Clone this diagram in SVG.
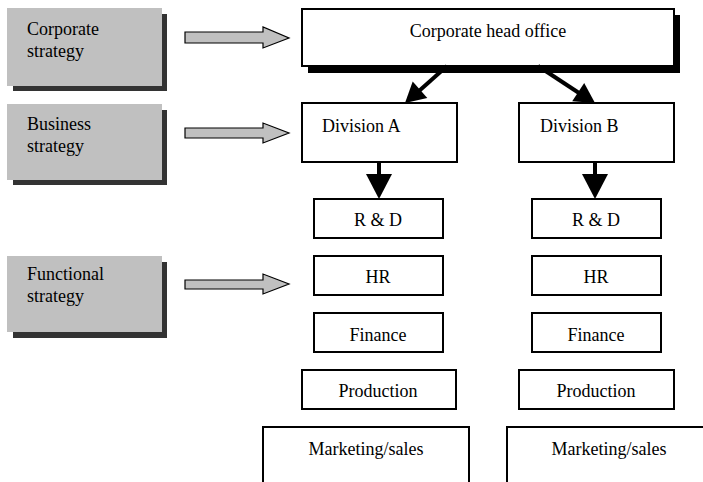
<svg xmlns="http://www.w3.org/2000/svg" width="703" height="482" viewBox="0 0 703 482">
  <style>
    text { font-family: "Liberation Serif", "Times New Roman", serif; font-size: 18px; fill: #000; }
    .level { fill: #c0c0c0; }
    .lvl-shadow { fill: #333; }
    .box { fill: #fff; stroke: #000; stroke-width: 2; }
    .pointer { fill: #c0c0c0; stroke: #000; stroke-width: 1.2; stroke-linejoin: miter; }
    .link { stroke: #000; stroke-width: 4; fill: none; }
    .head { fill: #000; }
    .mid { text-anchor: middle; }
  </style>

  <rect width="703" height="482" fill="#fff"/>

  <!-- strategy levels -->
  <g id="corporate-strategy">
    <rect class="lvl-shadow" x="13" y="14" width="154" height="77"/>
    <rect class="level" x="7" y="8" width="155" height="78"/>
    <text x="27" y="35">Corporate</text>
    <text x="27" y="57">strategy</text>
  </g>
  <g id="business-strategy">
    <rect class="lvl-shadow" x="13" y="110" width="154" height="75"/>
    <rect class="level" x="7" y="104" width="155" height="76"/>
    <text x="27" y="130">Business</text>
    <text x="27" y="152">strategy</text>
  </g>
  <g id="functional-strategy">
    <rect class="lvl-shadow" x="13" y="262" width="154" height="76"/>
    <rect class="level" x="7" y="256" width="155" height="76"/>
    <text x="27" y="280">Functional</text>
    <text x="27" y="302">strategy</text>
  </g>

  <!-- organisation -->
  <g id="head-office">
    <rect x="308" y="15" width="372" height="58" fill="#000"/>
    <rect class="box" x="302" y="9" width="372" height="57"/>
    <text class="mid" x="488" y="37">Corporate head office</text>
  </g>
  <g id="division-a">
    <rect class="box" x="302" y="103" width="155" height="59"/>
    <text x="322" y="132">Division A</text>
  </g>
  <g id="division-b">
    <rect class="box" x="519" y="103" width="155" height="59"/>
    <text x="540" y="132">Division B</text>
  </g>

  <g id="rd-a"><rect class="box" x="314" y="199" width="129" height="39"/><text class="mid" x="378" y="226">R &amp; D</text></g>
  <g id="hr-a"><rect class="box" x="314" y="256" width="129" height="39"/><text class="mid" x="378" y="283">HR</text></g>
  <g id="finance-a"><rect class="box" x="314" y="313" width="129" height="39"/><text class="mid" x="378" y="341">Finance</text></g>
  <g id="production-a"><rect class="box" x="302" y="370" width="154" height="39"/><text class="mid" x="378" y="397">Production</text></g>
  <g id="marketing-a"><rect class="box" x="263" y="427" width="206" height="70"/><text class="mid" x="366" y="455">Marketing/sales</text></g>

  <g id="rd-b"><rect class="box" x="532" y="199" width="129" height="39"/><text class="mid" x="596" y="226">R &amp; D</text></g>
  <g id="hr-b"><rect class="box" x="532" y="256" width="129" height="39"/><text class="mid" x="596" y="283">HR</text></g>
  <g id="finance-b"><rect class="box" x="532" y="313" width="129" height="39"/><text class="mid" x="596" y="341">Finance</text></g>
  <g id="production-b"><rect class="box" x="519" y="370" width="155" height="39"/><text class="mid" x="596" y="397">Production</text></g>
  <g id="marketing-b"><rect class="box" x="507" y="427" width="220" height="70"/><text class="mid" x="609" y="455">Marketing/sales</text></g>

  <!-- connectors -->
  <g id="connectors">
    <polygon class="pointer" points="185,32 263,32 263,27 289,38 263,48 263,43 185,43"/>
    <polygon class="pointer" points="185,128 263,128 263,123 289,133 263,143 263,138 185,138"/>
    <polygon class="pointer" points="185,280 263,280 263,274 289,284 263,294 263,289 185,289"/>

    <line class="link" x1="447" y1="66" x2="419" y2="91"/>
    <polygon class="head" points="405,103 412.7,81.5 427.3,98"/>
    <line class="link" x1="538" y1="66" x2="579" y2="93"/>
    <polygon class="head" points="595,103 584.2,82.9 572.2,101.3"/>

    <line class="link" x1="379" y1="162" x2="379" y2="176"/>
    <polygon class="head" points="366,174 392,174 379,199"/>
    <line class="link" x1="595" y1="162" x2="595" y2="176"/>
    <polygon class="head" points="582,174 608,174 595,199"/>
  </g>
</svg>
